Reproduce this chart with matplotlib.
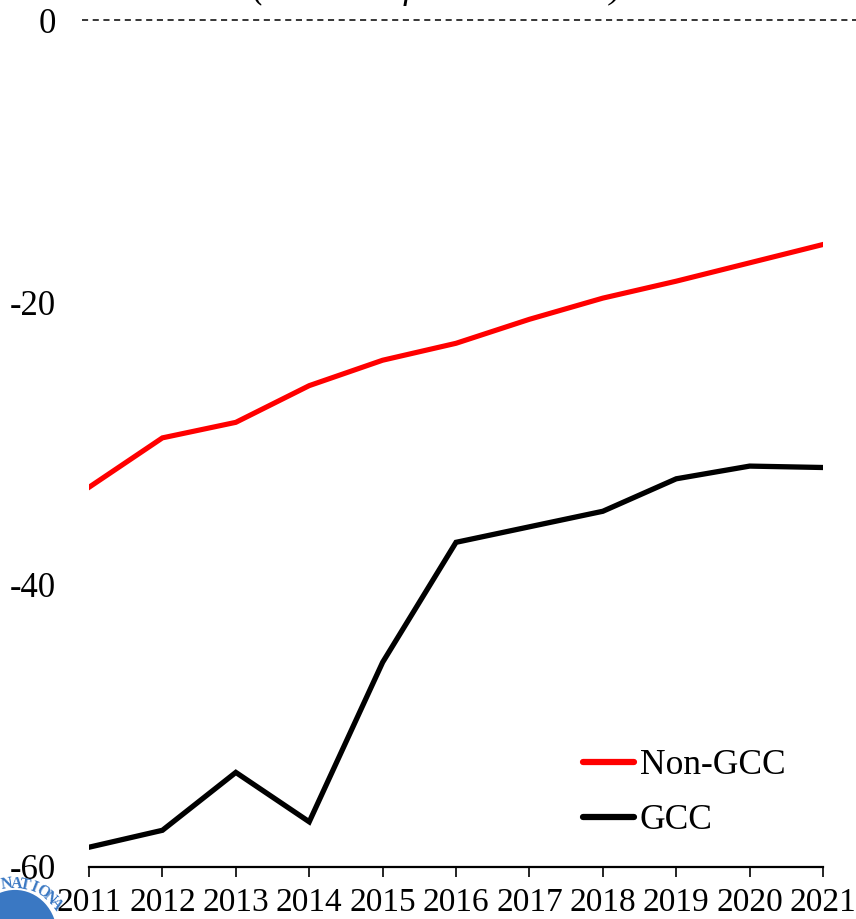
import numpy as np
import matplotlib.pyplot as plt
from matplotlib.patches import Circle

years = list(range(2011, 2022))
non_gcc = [-33.1, -29.6, -28.5, -25.9, -24.1, -22.9, -21.2, -19.7, -18.5, -17.2, -15.9]
gcc = [-58.6, -57.4, -53.3, -56.8, -45.5, -37.0, -35.9, -34.8, -32.5, -31.6, -31.7]
yticks = [0, -20, -40, -60]
title = "(Percent of non-oil GDP)"

plt.rcParams['font.family'] = ['Liberation Serif', 'DejaVu Serif']
plt.rcParams['axes.unicode_minus'] = False

W, H = 856, 919
fig = plt.figure(figsize=(W / 100, H / 100), dpi=100)
ax = fig.add_axes([0.104, 0.0566, 0.8575, 0.9216])

ax.plot(years, non_gcc, color='#ff0000', lw=3.7, label='Non-GCC', solid_joinstyle='miter')
ax.plot(years, gcc, color='black', lw=3.8, label='GCC', solid_joinstyle='miter')

# zero reference line runs past both ends of the axes
ax.axhline(0, xmin=-0.009, xmax=1.05, color='black', lw=1.1, ls=(0, (4, 3)), clip_on=False)

ax.set_xlim(2011, 2021)
ax.set_ylim(-60, 0)
ax.set_xticks(years)
ax.set_yticks(yticks)
for s in ['top', 'right', 'left']:
    ax.spines[s].set_visible(False)
ax.spines['bottom'].set_linewidth(1.6)
ax.tick_params(axis='x', direction='out', length=7.5, width=1.2, pad=7, labelsize=24)
ax.tick_params(axis='y', length=0, pad=24, labelsize=25)

leg = ax.legend(loc='upper left', bbox_to_anchor=(0.673, 0.139), frameon=False,
                fontsize=25.5, handlelength=1.45, handletextpad=0.15, labelspacing=0.62,
                borderpad=0, borderaxespad=0)
for h in leg.get_lines():
    h.set_linewidth(4.5)
    h.set_solid_capstyle('round')

fig.text(0.511, 1.002, title, ha='center', va='baseline', fontsize=26, style='italic')

# corner seal
blue = '#3a78c3'
cx, cy = 15, 935
fig.patches.append(Circle((cx / W, 1 - cy / H), 42 / W, transform=fig.transFigure,
                          facecolor=blue, edgecolor='none', zorder=6))
for ch, ang in zip("NATIONA", np.linspace(99, 37, 7)):
    a = np.radians(ang)
    fig.text((cx + 51 * np.cos(a)) / W, 1 - (cy - 51 * np.sin(a)) / H, ch,
             rotation=ang - 90, ha='center', va='center', fontsize=11.5,
             fontweight='bold', color=blue, zorder=7)

fig.savefig('out.png', dpi=100)
